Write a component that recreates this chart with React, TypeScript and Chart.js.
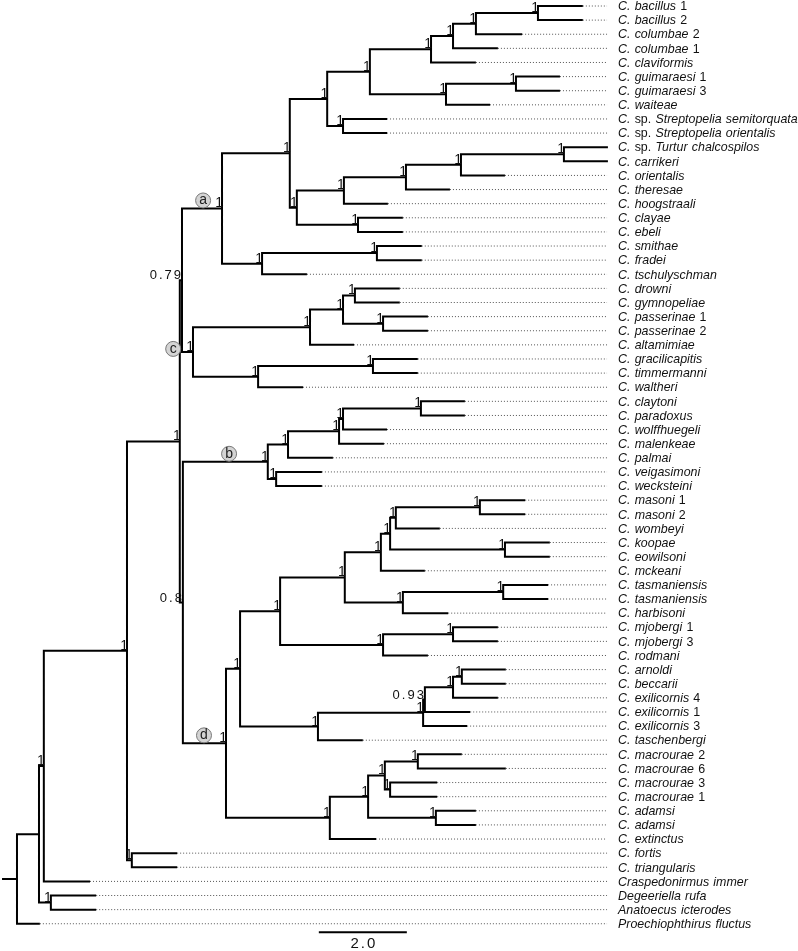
import React, { useEffect, useRef } from "react";
import { Chart, registerables } from "chart.js";

Chart.register(...registerables);

// ---------- leaf data (top to bottom) ----------
const leafNames: string[] = [
  "C. bacillus", "C. bacillus", "C. columbae", "C. columbae", "C. claviformis",
  "C. guimaraesi", "C. guimaraesi", "C. waiteae", "C. sp. Streptopelia semitorquata",
  "C. sp. Streptopelia orientalis", "C. sp. Turtur chalcospilos", "C. carrikeri",
  "C. orientalis", "C. theresae", "C. hoogstraali", "C. clayae", "C. ebeli",
  "C. smithae", "C. fradei", "C. tschulyschman", "C. drowni", "C. gymnopeliae",
  "C. passerinae", "C. passerinae", "C. altamimiae", "C. gracilicapitis",
  "C. timmermanni", "C. waltheri", "C. claytoni", "C. paradoxus", "C. wolffhuegeli",
  "C. malenkeae", "C. palmai", "C. veigasimoni", "C. wecksteini", "C. masoni",
  "C. masoni", "C. wombeyi", "C. koopae", "C. eowilsoni", "C. mckeani",
  "C. tasmaniensis", "C. tasmaniensis", "C. harbisoni", "C. mjobergi", "C. mjobergi",
  "C. rodmani", "C. arnoldi", "C. beccarii", "C. exilicornis", "C. exilicornis",
  "C. exilicornis", "C. taschenbergi", "C. macrourae", "C. macrourae", "C. macrourae",
  "C. macrourae", "C. adamsi", "C. adamsi", "C. extinctus", "C. fortis",
  "C. triangularis", "Craspedonirmus immer", "Degeeriella rufa",
  "Anatoecus icterodes", "Proechiophthirus fluctus",
];

const leafSuffix: string[] = [
  "1", "2", "2", "1", "", "1", "3", "", "", "",
  "", "", "", "", "", "", "", "", "", "",
  "", "", "1", "2", "", "", "", "", "", "",
  "", "", "", "", "", "1", "2", "", "", "",
  "", "", "", "", "1", "3", "", "", "", "4",
  "1", "3", "", "2", "6", "3", "1", "", "", "",
  "", "", "", "", "", "",
];

// tip depth of each leaf (substitutions per site units from root)
const leafTips: number[] = [
  12.86, 12.86, 11.48, 10.93, 10.43, 12.34, 12.34, 10.75, 8.41, 8.41,
  13.43, 13.43, 11.09, 9.84, 8.43, 8.77, 8.77, 9.2, 9.2, 6.59,
  8.7, 8.7, 9.34, 9.34, 7.66, 9.11, 9.11, 6.5, 10.18, 10.18,
  8.41, 8.34, 7.18, 6.93, 6.93, 11.55, 11.55, 9.61, 12.11, 12.11,
  9.27, 12.07, 12.07, 9.8, 10.93, 10.93, 9.34, 11.11, 11.11, 10.93,
  10.3, 10.23, 7.86, 10.11, 11.11, 9.55, 9.55, 10.43, 10.43, 8.16,
  3.64, 3.64, 1.66, 1.8, 1.8, 0.52,
];

// ---------- internal nodes: [name, upper child, lower child]; numbers = leaf number ----------
const nodeTopology: [string, string | number, string | number][] = [
  ["root", "n1", 66], ["n1", "n2", "n3"], ["n2", "n5", 63], ["n3", 64, 65],
  ["n5", "n6", "n7"], ["n7", 61, 62], ["n6", "n079", "n08"], ["n079", "a", "c"],
  ["n08", "b", "d"], ["a", "a1", "a2"], ["a1", "a1a", "a1b"], ["a1a", "a11", "strep"],
  ["a11", "a111", "a112"], ["a111", "a1111", 5], ["a1111", "a11111", 4],
  ["a11111", "bac", 3], ["bac", 1, 2], ["a112", "gui", 8], ["gui", 6, 7],
  ["strep", 9, 10], ["a1b", "a1b1", "clay"], ["a1b1", "a1b11", 15],
  ["a1b11", "a1b111", 14], ["a1b111", "turt", 13], ["turt", 11, 12], ["clay", 16, 17],
  ["a2", "smit", 20], ["smit", 18, 19], ["c", "c1", "c2"], ["c1", "c11", 25],
  ["c11", "drow", "pass"], ["drow", 21, 22], ["pass", 23, 24], ["c2", "grac", 28],
  ["grac", 26, 27], ["b", "b1", "veig"], ["b1", "b2", 33], ["b2", "b3", 32],
  ["b3", "clayt", 31], ["clayt", 29, 30], ["veig", 34, 35], ["d", "d1", "d18"],
  ["d1", "d2", "d13"], ["d2", "d3", "d11"], ["d3", "d4", "d9"], ["d4", "d5", 41],
  ["d5", "d6", "koop"], ["d6", "maso", 38], ["maso", 36, 37], ["koop", 39, 40],
  ["d9", "tasm", 44], ["tasm", 42, 43], ["d11", "mjob", 47], ["mjob", 45, 46],
  ["d13", "d14", 53], ["d14", "d15", 52], ["d15", "d16", 51], ["d16", "arno", 50],
  ["arno", 48, 49], ["d18", "d19", 60], ["d19", "d20", "adam"], ["d20", "mac26", "mac31"],
  ["mac26", 54, 55], ["mac31", 56, 57], ["adam", 58, 59],
];

const nodeDepth: number[] = [
  0.0, 0.5, 0.61, 0.77,
  2.5, 2.61, 3.7, 3.75,
  3.77, 4.66, 6.2, 7.05,
  8.02, 9.41, 9.91,
  10.43, 11.84, 9.75, 11.34,
  7.41, 6.36, 7.43,
  8.84, 10.09, 12.43, 7.75,
  5.57, 8.18, 4.0, 6.66,
  7.41, 7.68, 8.32, 5.48,
  8.09, 5.7, 6.16, 7.32,
  7.41, 9.18, 5.89, 4.75,
  5.07, 5.98, 7.45, 8.27,
  8.48, 8.61, 10.52, 11.09,
  8.77, 11.05, 8.32, 9.91,
  6.84, 9.23, 9.27, 9.91,
  10.11, 7.11, 7.98, 8.36,
  9.11, 8.48, 9.52,
];

const nodeSupport: string[] = [
  "", "", "1", "1",
  "1", "1", "1", "0.79",
  "0.8", "1", "1", "1",
  "1", "1", "1",
  "1", "1", "1", "1",
  "1", "1", "1",
  "1", "1", "1", "1",
  "1", "1", "1", "1",
  "1", "1", "1", "1",
  "1", "1", "1", "1",
  "1", "1", "1", "1",
  "1", "1", "1", "1",
  "1", "1", "1", "1",
  "1", "1", "1", "1",
  "1", "1", "0.93", "1",
  "1", "1", "1", "1",
  "1", "1", "1",
];

// clade markers (circled letters) on the stem branches
const cladeLetters = ["a", "b", "c", "d"];
const cladeNodes = ["a", "b", "c", "d"];
const cladeMarkX = [4.23, 4.82, 3.55, 4.25];

const rootStubX = -0.34;
const dotEndX = 13.41;
const labelX = 13.66;
const scaleBarStart = 6.86;
const scaleBarLength = 2.0;
const scaleBarLabel = "2.0";

// ---------- helpers ----------
const nodeIndex = new Map<string, number>(nodeTopology.map((t, i) => [t[0], i]));

function refY(ref: string | number): number {
  if (typeof ref === "number") return ref - 1;
  const t = nodeTopology[nodeIndex.get(ref)!];
  return (refY(t[1]) + refY(t[2])) / 2;
}
function refX(ref: string | number): number {
  if (typeof ref === "number") return leafTips[ref - 1];
  return nodeDepth[nodeIndex.get(ref)!];
}

const GAP = { x: NaN, y: NaN };

function buildBranches() {
  const pts: { x: number; y: number }[] = [];
  const rootY = refY("root");
  pts.push({ x: rootStubX, y: rootY }, { x: 0, y: rootY }, GAP);
  nodeTopology.forEach((t, i) => {
    const px = nodeDepth[i];
    const py = refY(t[0]);
    [t[1], t[2]].forEach((k) => {
      const ky = refY(k);
      const kx = refX(k);
      pts.push({ x: px, y: py }, { x: px, y: ky }, { x: kx, y: ky }, GAP);
    });
  });
  return pts;
}

function buildDots() {
  const pts: { x: number; y: number }[] = [];
  leafTips.forEach((tip, i) => {
    if (tip < dotEndX - 0.05) pts.push({ x: tip, y: i }, { x: dotEndX, y: i }, GAP);
  });
  return pts;
}

const FONT = "'Liberation Sans', Arial, sans-serif";
const LABEL_PX = 13.5;
const LABEL_SX = 0.92;
const SPACE_EXTRA = 0.8;

function leafSegments(name: string, suffix: string) {
  const segs: { t: string; it: boolean }[] = [];
  name.split(" ").forEach((p, i) => {
    segs.push({ t: (i > 0 ? " " : "") + p, it: p !== "sp." });
  });
  if (suffix) segs.push({ t: " " + suffix, it: false });
  return segs;
}

const textPlugin = {
  id: "treeText",
  afterDatasetsDraw(chart: any) {
    const ctx: CanvasRenderingContext2D = chart.ctx;
    const xs = chart.scales.x;
    const ys = chart.scales.y;
    ctx.save();
    ctx.fillStyle = "#111";

    // leaf labels
    const lx = xs.getPixelForValue(labelX);
    leafNames.forEach((name, i) => {
      const y = ys.getPixelForValue(i) + 0.5;
      ctx.save();
      ctx.translate(lx, y);
      ctx.scale(LABEL_SX, 1);
      ctx.textBaseline = "middle";
      ctx.textAlign = "left";
      let cx = 0;
      leafSegments(name, leafSuffix[i]).forEach((s) => {
        ctx.font = (s.it ? "italic " : "") + LABEL_PX + "px " + FONT;
        if (s.t.startsWith(" ")) cx += SPACE_EXTRA;
        ctx.fillText(s.t, cx, 0);
        cx += ctx.measureText(s.t).width;
      });
      ctx.restore();
    });

    // support values
    nodeTopology.forEach((t, i) => {
      const s = nodeSupport[i];
      if (!s) return;
      const x = xs.getPixelForValue(nodeDepth[i]);
      const y = ys.getPixelForValue(refY(t[0]));
      ctx.save();
      ctx.font = "14px " + FONT;
      ctx.textAlign = "right";
      ctx.textBaseline = "alphabetic";
      if (s.length > 1) {
        ctx.font = "13px " + FONT;
        (ctx as any).letterSpacing = "2px";
        ctx.fillText(s, x + 1, y - 1);
      } else {
        ctx.fillText(s, x + 1, y - 1);
      }
      ctx.restore();
    });

    // clade markers
    cladeLetters.forEach((letter, i) => {
      const x = xs.getPixelForValue(cladeMarkX[i]);
      const yNode = ys.getPixelForValue(refY(cladeNodes[i]));
      const y = letter === "c" ? yNode - 3 : yNode - 8;
      ctx.beginPath();
      ctx.arc(x, y, 7.5, 0, Math.PI * 2);
      ctx.fillStyle = "#d4d4d4";
      ctx.fill();
      ctx.lineWidth = 1;
      ctx.strokeStyle = "#777";
      ctx.stroke();
      ctx.fillStyle = "#222";
      ctx.font = "14px " + FONT;
      ctx.textAlign = "center";
      ctx.textBaseline = "middle";
      ctx.fillText(letter, x, y);
    });

    // scale bar label
    const sbx = xs.getPixelForValue(scaleBarStart + scaleBarLength / 2);
    const sby = ys.getPixelForValue(leafNames.length - 1 + 0.6);
    ctx.fillStyle = "#111";
    ctx.font = "15px " + FONT;
    (ctx as any).letterSpacing = "2px";
    ctx.textAlign = "center";
    ctx.textBaseline = "middle";
    ctx.fillText(scaleBarLabel, sbx + 1, sby + 12);
    ctx.restore();
  },
};

export default function App() {
  const ref = useRef<HTMLCanvasElement | null>(null);
  useEffect(() => {
    if (!ref.current) return;
    const n = leafNames.length;
    const sbRow = n - 1 + 0.6;
    const chart = new Chart(ref.current, {
      type: "scatter",
      data: {
        datasets: [
          {
            data: buildDots(),
            showLine: true,
            borderColor: "#555",
            borderWidth: 1,
            borderDash: [1, 2],
            pointRadius: 0,
            spanGaps: false,
          } as any,
          {
            data: buildBranches(),
            showLine: true,
            borderColor: "#000",
            borderWidth: 2,
            borderJoinStyle: "miter",
            pointRadius: 0,
            spanGaps: false,
          } as any,
          {
            data: [
              { x: scaleBarStart, y: sbRow },
              { x: scaleBarStart + scaleBarLength, y: sbRow },
            ],
            showLine: true,
            borderColor: "#000",
            borderWidth: 2,
            pointRadius: 0,
          } as any,
        ],
      },
      options: {
        animation: false,
        responsive: false,
        maintainAspectRatio: false,
        layout: { padding: 0 },
        plugins: { legend: { display: false }, tooltip: { enabled: false } },
        scales: {
          x: { type: "linear", display: false, min: -0.386, max: 17.75 },
          y: { type: "linear", display: false, reverse: true, min: -0.425, max: 66.93 },
        },
      },
      plugins: [textPlugin],
    });
    return () => chart.destroy();
  }, []);
  return (
    <div style={{ position: "absolute", left: 0, top: 0, width: 798, height: 951, background: "#fff" }}>
      <canvas ref={ref} width={798} height={951} style={{ display: "block" }} />
    </div>
  );
}
